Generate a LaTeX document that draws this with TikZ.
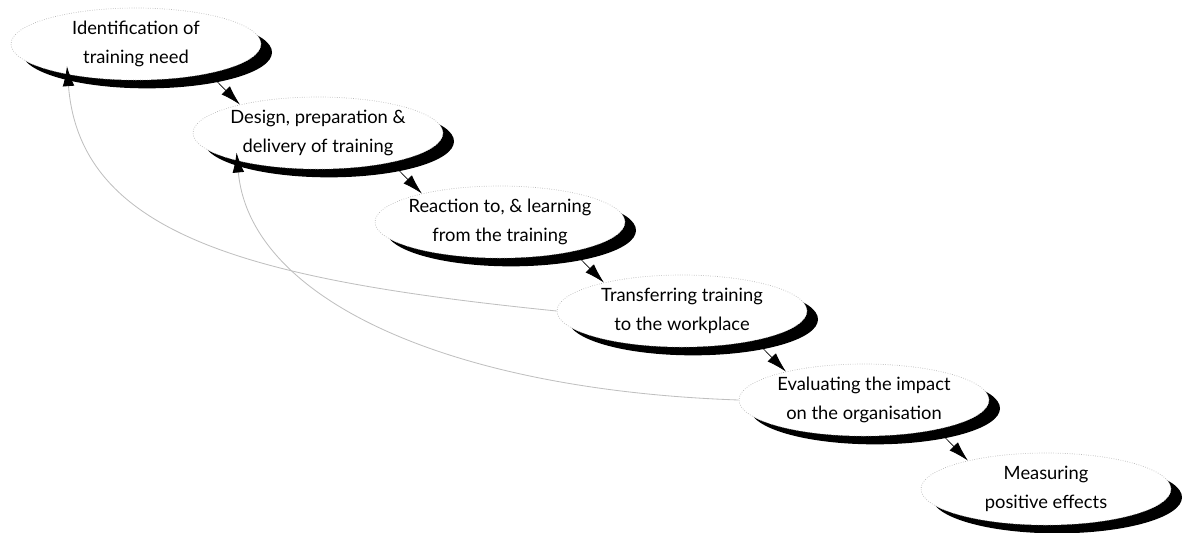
\documentclass[tikz,border=0pt]{standalone}
\usepackage{fontspec}
\setmainfont{Lato}
\usetikzlibrary{arrows.meta,shapes.geometric,shadows}

\begin{document}
\begin{tikzpicture}[
  x=0.6pt, y=-0.6pt,
  >={Latex[length=12pt,width=7pt]},
  stage/.style={ellipse,draw=gray!60,densely dotted,fill=white,
    minimum width=150pt,minimum height=43.2pt,inner xsep=-16pt,inner ysep=-8pt,
    align=center,font=\fontsize{11}{17}\selectfont,
    general shadow={fill=black,shadow xshift=6.6pt,shadow yshift=-5pt}},
  flow/.style={->,thin,black},
  fback/.style={-{Latex[length=12pt,width=7pt,color=black]},gray!50,line width=0.5pt,shorten >=-5pt}
]
\useasboundingbox (0,0) rectangle (1187,533);

% the six stages, stepping down to the right
\node[stage] (s1) at (136,44)  {Identification of\\ training need};
\node[stage] (s2) at (318,133) {Design, preparation \&\\ delivery of training};
\node[stage] (s3) at (500,222) {Reaction to, \& learning\\ from the training};
\node[stage] (s4) at (682,311) {Transferring training\\ to the workplace};
\node[stage] (s5) at (864,400) {Evaluating the impact\\ on the organisation};
\node[stage] (s6) at (1046,489) {Measuring\\ positive effects};

% forward steps
\draw[flow] (s1.338) -- (s2.160);
\draw[flow] (s2.338) -- (s3.160);
\draw[flow] (s3.338) -- (s4.160);
\draw[flow] (s4.338) -- (s5.160);
\draw[flow] (s5.338) -- (s6.160);

% feedback loops (faint)
\draw[fback] (s4.west) .. controls (250,280) and (80,235) .. (s1.204);
\draw[fback] (s5.west) .. controls (450,390) and (250,300) .. (s2.199);

\end{tikzpicture}
\end{document}
